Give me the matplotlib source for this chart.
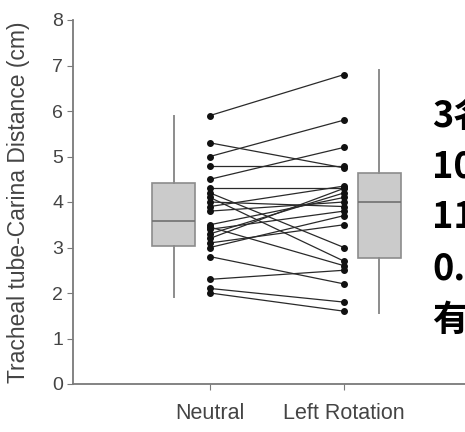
import matplotlib
matplotlib.use("Agg")
import matplotlib.pyplot as plt

# paired measurements (cm), one line per patient
neutral = [5.9, 5.3, 5.0, 4.8, 4.5, 4.3, 4.2, 4.1, 4.0, 3.9, 3.8,
           3.5, 3.45, 3.4, 3.3, 3.2, 3.1, 3.0, 2.8, 2.3, 2.1, 2.0]
left_rot = [6.8, 4.75, 5.8, 4.8, 5.2, 4.3, 3.0, 2.7, 3.9, 4.35, 4.0,
            4.1, 2.6, 3.8, 4.2, 4.3, 3.5, 3.7, 2.2, 2.5, 1.8, 1.6]

groups = ["Neutral", "Left Rotation"]

# box summaries
box_q1 = [3.03, 2.78]
box_med = [3.58, 4.0]
box_q3 = [4.42, 4.64]
box_lo = [1.91, 1.56]
box_hi = [5.89, 6.9]

side_text = ["3名", "10", "11", "0.", "有"]

plt.rcParams["font.family"] = ["Liberation Sans", "DejaVu Sans"]

fig = plt.figure(figsize=(4.65, 4.32), dpi=100)
ax = fig.add_axes([73 / 465, 48 / 432, 392 / 465, 364 / 432])

# paired lines
for a, b in zip(neutral, left_rot):
    ax.plot([1, 2], [a, b], color="#2a2a2a", lw=0.9, marker="o", ms=4,
            mfc="#111111", mec="#111111", zorder=3)

stats = []
for i in range(2):
    stats.append(dict(q1=box_q1[i], med=box_med[i], q3=box_q3[i],
                      whislo=box_lo[i], whishi=box_hi[i], fliers=[]))
ax.bxp(stats, positions=[0.731, 2.265], widths=0.32, patch_artist=True,
       showcaps=False, showfliers=False,
       boxprops=dict(facecolor="#cbcbcb", edgecolor="#8c8c8c", lw=1.2),
       medianprops=dict(color="#707070", lw=1.2),
       whiskerprops=dict(color="#8c8c8c", lw=1.4))

ax.set_xlim(-0.022, 2.903)
ax.set_ylim(0, 8)
ax.set_yticks(range(0, 9))
ax.set_xticks([1, 2])
ax.set_xticklabels(groups)

for s in ["top", "right"]:
    ax.spines[s].set_visible(False)
for s in ["left", "bottom"]:
    ax.spines[s].set_color("#7a7a7a")
    ax.spines[s].set_linewidth(1.3)

ax.tick_params(axis="y", colors="#7a7a7a", labelcolor="#444444",
               labelsize=14, length=4, pad=3)
ax.tick_params(axis="x", colors="#7a7a7a", labelcolor="#444444",
               labelsize=15.5, length=4, pad=10)

ax.set_ylabel("Tracheal tube-Carina Distance (cm)", fontsize=16.5,
              color="#444444")
ax.yaxis.set_label_coords(-0.11, 0.5)

# text block cut off at the right edge, as in the source image
for i, t in enumerate(side_text):
    fig.text(432 / 465, 1 - (116 + i * 51) / 432, t, fontsize=26,
             fontweight="bold", va="center", ha="left", color="black",
             family=["Noto Sans CJK SC", "DejaVu Sans"])

fig.savefig("out.png", dpi=100)
